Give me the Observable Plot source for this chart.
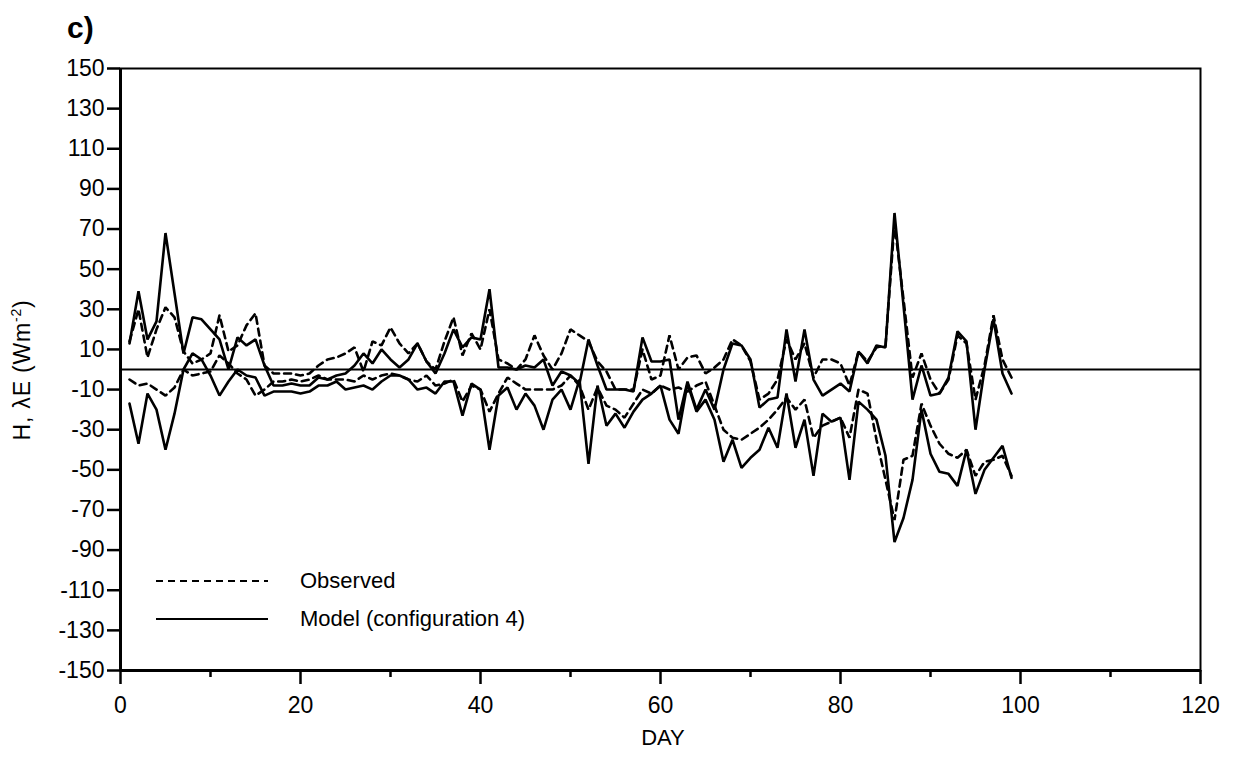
<!DOCTYPE html>
<html><head><meta charset="utf-8">
<script src="https://cdn.jsdelivr.net/npm/d3@7"></script>
<script src="https://cdn.jsdelivr.net/npm/@observablehq/plot@0.6"></script>
<style>
body{margin:0;background:#fff;font-family:"Liberation Sans",Arial,sans-serif;color:#000;}
#wrap{position:relative;width:1236px;height:758px;overflow:hidden;}
#wrap > svg{position:absolute;left:0;top:0;}
#wrap > svg text{font-size:23px;}
.abs{position:absolute;white-space:nowrap;line-height:1;}
#title{left:67px;top:13px;font-size:30px;font-weight:bold;}
#ylab{left:22px;top:370px;font-size:23px;letter-spacing:0.8px;transform:translate(-50%,-50%) rotate(-90deg);}
#ylab sup{font-size:14px;vertical-align:9px;line-height:0;}
#xlab{left:663px;top:738px;font-size:22px;transform:translate(-50%,-50%);}
.legtxt{font-size:22px;transform:translateY(-50%);}
</style></head><body>
<div id="wrap">
  <div class="abs" id="title">c)</div>
  <div class="abs" id="ylab">H, λE (Wm<sup>-2</sup>)</div>
  <div class="abs" id="xlab">DAY</div>
</div>
<script>
const days = d3.range(1, 100);
const obsH = [
 14, 30, 6, 20, 31, 26, 9, 3, 5, 8,
 27, 9, 12, 22, 28, 2, -2, -2, -2, -3,
 -2, 2, 5, 6, 8, 11, -1, 14, 12, 21,
 13, 8, 13, 4, 0, 14, 26, 7, 18, 10,
 30, 5, 3, 0, 5, 17, 7, 0, 8, 20,
 17, 14, 4, -1, -10, -10, -10, 10, -5, -3,
 17, 0, 6, 7, -2, 1, 5, 15, 12, 4,
 -15, -12, -5, 15, 5, 13, -4, 5, 5, 3,
 -8, 9, 4, 11, 12, 73, 35, -4, 8, -5,
 -12, -5, 17, 13, -15, 2, 27, 5, -4];
const obsLE = [
 -5, -8, -7, -10, -13, -9, 0, -3, -2, -1,
 7, 3, -2, -5, -13, -10, -6, -6, -5, -6,
 -5, -3, -5, -5, -5, -6, -3, -5, -3, -2,
 -3, -5, -6, -3, -8, -7, -5, -16, -8, -10,
 -21, -12, -4, -7, -10, -10, -10, -10, -8, -3,
 -8, -20, -9, -18, -20, -24, -17, -10, -12, -8,
 -10, -9, -11, -8, -6, -18, -30, -34, -35, -32,
 -29, -25, -20, -14, -20, -15, -34, -28, -26, -24,
 -34, -10, -12, -35, -55, -75, -45, -43, -17, -28,
 -37, -42, -44, -40, -53, -46, -45, -43, -53];
const modelH = [
 13, 39, 15, 24, 68, 38, 8, 26, 25, 20,
 15, 0, 16, 12, 15, 2, -8, -8, -7, -8,
 -8, -4, -5, -3, -2, 2, 8, 3, 10, 5,
 1, 5, 13, 4, -2, 8, 20, 11, 16, 15,
 40, 1, 1, 0, 2, 1, 5, -8, -1, -3,
 -7, 15, 2, -10, -10, -10, -11, 16, 4, 4,
 5, -25, -6, -20, -10, -20, 0, 13, 12, 5,
 -19, -15, -14, 20, -6, 20, -5, -13, -10, -7,
 -11, 9, 3, 12, 11, 78, 32, -15, 2, -13,
 -12, -4, 19, 14, -30, 0, 25, -2, -12];
const modelLE = [
 -17, -37, -12, -20, -40, -22, 0, 8, 5, -3,
 -13, -6, 0, -3, -4, -13, -11, -11, -11, -12,
 -11, -8, -8, -6, -10, -9, -8, -10, -6, -3,
 -3, -5, -10, -9, -12, -6, -6, -23, -7, -10,
 -40, -13, -9, -20, -12, -18, -30, -15, -10, -20,
 -5, -47, -8, -28, -22, -29, -21, -15, -12, -8,
 -25, -32, -7, -21, -15, -25, -46, -35, -49, -44,
 -40, -29, -39, -12, -39, -25, -53, -22, -26, -24,
 -55, -16, -20, -25, -43, -86, -74, -55, -20, -42,
 -51, -52, -58, -40, -62, -50, -44, -38, -54];
const xMajor = [0, 20, 40, 60, 80, 100, 120];
const xMinor = [10, 30, 50, 70, 90, 110];
const yTicks = [-150, -130, -110, -90, -70, -50, -30, -10, 10, 30, 50, 70, 90, 110, 130, 150];
const legendItems = ["Observed", "Model (configuration 4)"];

const toRows = (vals, series) => vals.map((v, i) => ({day: days[i], value: v, series}));
const observed = [...toRows(obsH, "H"), ...toRows(obsLE, "λE")];
const model = [...toRows(modelH, "H"), ...toRows(modelLE, "λE")];
const fmt = d => String(d);

const chart = Plot.plot({
  width: 1236, height: 758,
  marginLeft: 120, marginRight: 36, marginTop: 68, marginBottom: 88,
  style: {fontFamily: "Liberation Sans, Arial, sans-serif", fontSize: "23px", color: "#000", background: "#fff", overflow: "visible"},
  x: {domain: [0, 120]},
  y: {domain: [-150, 150]},
  marks: [
    Plot.ruleY([0], {stroke: "#000", strokeWidth: 2}),
    Plot.line(observed, {x: "day", y: "value", z: "series", stroke: "#000", strokeWidth: 2.6, strokeDasharray: "7,5", strokeLinejoin: "miter"}),
    Plot.line(model, {x: "day", y: "value", z: "series", stroke: "#000", strokeWidth: 2.6, strokeLinejoin: "miter"}),
    Plot.frame({stroke: "#000", strokeWidth: 2}),
    Plot.ruleX([0], {stroke: "#000", strokeWidth: 3}),
    Plot.ruleY([-150], {stroke: "#000", strokeWidth: 3}),
    Plot.axisY(yTicks, {tickSize: 13, tickPadding: 3, label: null, strokeWidth: 2.5, tickFormat: fmt}),
    Plot.axisX(xMajor, {tickSize: 14, tickPadding: 12, label: null, strokeWidth: 2.5, tickFormat: fmt}),
    Plot.axisX(xMinor, {tickSize: 7, tickFormat: () => "", label: null, strokeWidth: 2.5})
  ]
});
const wrap = document.getElementById("wrap");
wrap.insertBefore(chart, wrap.firstChild);

// legend
const leg = [
  {label: legendItems[0], y: 581, dash: "7,5"},
  {label: legendItems[1], y: 619, dash: null}
];
const ns = "http://www.w3.org/2000/svg";
const lsvg = document.createElementNS(ns, "svg");
lsvg.setAttribute("width", "130"); lsvg.setAttribute("height", "80");
lsvg.style.position = "absolute"; lsvg.style.left = "150px"; lsvg.style.top = "560px";
leg.forEach(d => {
  const ln = document.createElementNS(ns, "line");
  ln.setAttribute("x1", 6); ln.setAttribute("x2", 118);
  ln.setAttribute("y1", d.y - 560); ln.setAttribute("y2", d.y - 560);
  ln.setAttribute("stroke", "#000"); ln.setAttribute("stroke-width", "1.8");
  if (d.dash) ln.setAttribute("stroke-dasharray", d.dash);
  lsvg.appendChild(ln);
  const t = document.createElement("div");
  t.className = "abs legtxt"; t.textContent = d.label;
  t.style.left = "300px"; t.style.top = d.y + "px";
  wrap.appendChild(t);
});
wrap.appendChild(lsvg);
</script>
</body></html>
